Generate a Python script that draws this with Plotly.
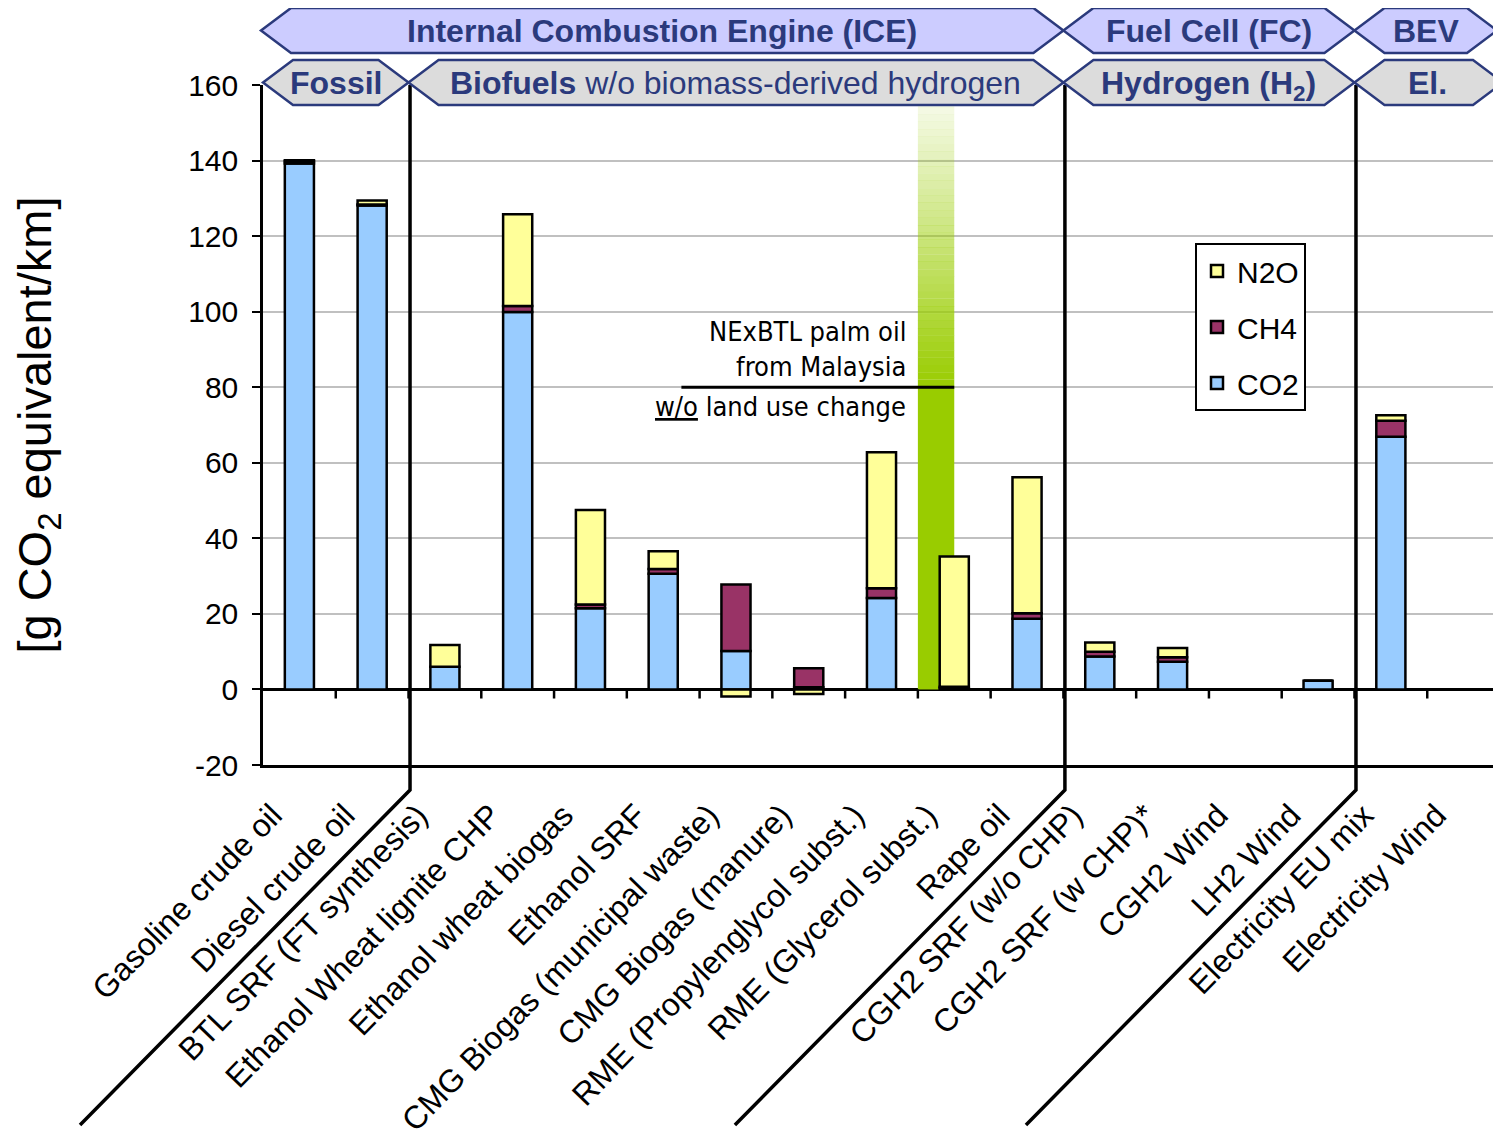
import plotly.graph_objects as go

# ---------------- data ----------------
categories = [
    "Gasoline crude oil", "Diesel crude oil", "BTL SRF (FT synthesis)",
    "Ethanol Wheat lignite CHP", "Ethanol wheat biogas", "Ethanol SRF",
    "CMG Biogas (municipal waste)", "CMG Biogas (manure)",
    "RME (Propylenglycol subst.)", "RME (Glycerol subst.)", "Rape oil",
    "CGH2 SRF (w/o CHP)", "CGH2 SRF (w CHP)*", "CGH2 Wind", "LH2 Wind",
    "Electricity EU mix", "Electricity Wind",
]
co2 = [139.2, 128.1, 6.0, 99.9, 21.5, 30.6, 10.2, 0.6, 24.2, 0.4, 18.7, 8.7, 7.3, 0, 2.3, 66.9, 0]
ch4 = [0.6, 0.3, 0, 1.6, 1.0, 1.3, 17.6, 5.0, 2.6, 0.3, 1.5, 1.3, 1.2, 0, 0, 4.2, 0]
n2o = [0.3, 1.0, 5.75, 24.3, 25.0, 4.7, -1.9, -1.2, 36.0, 34.5, 36.0, 2.4, 2.5, 0, 0, 1.5, 0]

y_ticks = [-20, 0, 20, 40, 60, 80, 100, 120, 140, 160]
y_tick_text = ["-20", "0", "20", "40", "60", "80", "100", "120", "140", "160"]

# NExBTL palm oil reference value (g CO2 eq/km)
nexbtl_value = 80
nexbtl_fade_top = 158

# group banners: (label, first boundary, last boundary) on the category axis
row1_groups = [("Internal Combustion Engine (ICE)", -0.5, 10.5),
               ("Fuel Cell (FC)", 10.5, 14.5),
               ("BEV", 14.5, 16.5)]
row2_groups = [("<b>Fossil</b>", -0.5, 1.5),
               ("<b>Biofuels</b> w/o biomass-derived hydrogen", 1.5, 10.5),
               ("<b>Hydrogen (H<sub>2</sub>)</b>", 10.5, 14.5),
               ("<b>El.</b>", 14.5, 16.5)]
separators = [1.5, 10.5, 14.5]

# ---------------- styles / geometry ----------------
C_CO2 = "#99ccff"
C_CH4 = "#993366"
C_N2O = "#ffff99"
GREEN = (153, 204, 0)
FONT = "Liberation Sans, Arial, sans-serif"
NAVY = "#2b3a7c"

OFF = 8                     # default page body margin
SCREEN_W, SCREEN_H = 1501, 1139
PLOT_L, PLOT_T, PLOT_W, PLOT_H = 263, 85, 1237, 680
W = SCREEN_W - OFF
H = SCREEN_H - 2 * OFF
ML = PLOT_L - OFF
MT = PLOT_T - OFF
MR = W - ML - PLOT_W
MB = H - MT - PLOT_H
N = len(categories)
xs = list(range(N))
label_shift = 0.37


def px_x(b):
    """paper x of a category-axis position"""
    return (b + 0.5) / N


def py(pix):
    """paper y of a screen pixel row"""
    return (PLOT_T + PLOT_H - pix) / PLOT_H


fig = go.Figure()
line = dict(color="black", width=2.5)
fig.add_trace(go.Bar(x=xs, y=co2, name="CO2", marker=dict(color=C_CO2, line=line),
                     width=0.4, legendgroup="co2", legendrank=3))
fig.add_trace(go.Bar(x=xs, y=ch4, name="CH4", marker=dict(color=C_CH4, line=line),
                     width=0.4, legendgroup="ch4", legendrank=2))
fig.add_trace(go.Bar(x=xs, y=n2o, name="N2O", marker=dict(color=C_N2O, line=line),
                     width=0.4, legendgroup="n2o", legendrank=1))

shapes = []

# green band for NExBTL (solid up to the value, fading above)
band_x0, band_x1 = 8.5, 9.0
shapes.append(dict(type="rect", xref="x", yref="y", x0=band_x0, x1=band_x1, y0=0, y1=nexbtl_value,
                   fillcolor="rgb(%d,%d,%d)" % GREEN, line=dict(width=0), layer="between"))
steps = 40
for k in range(steps):
    y0 = nexbtl_value + (nexbtl_fade_top - nexbtl_value) * k / steps
    y1 = nexbtl_value + (nexbtl_fade_top - nexbtl_value) * (k + 1) / steps
    a = 1.0 - 0.95 * (k + 0.5) / steps
    shapes.append(dict(type="rect", xref="x", yref="y", x0=band_x0, x1=band_x1, y0=y0, y1=y1 + 0.05,
                       fillcolor="rgba(%d,%d,%d,%.3f)" % (GREEN + (a,)), line=dict(width=0),
                       layer="between"))
# black line at value
shapes.append(dict(type="line", xref="x", yref="y", x0=5.25, x1=band_x1, y0=nexbtl_value,
                   y1=nexbtl_value, line=dict(color="black", width=3)))

# category boundary ticks on zero line
for i in range(N - 1):
    shapes.append(dict(type="line", xref="x", yref="y", x0=i + 0.5, x1=i + 0.5, y0=0, y1=-2.4,
                       line=dict(color="black", width=2.5)))

# separators (vertical + diagonal), paper coordinates
diag_dx = 330 / PLOT_W
y_knee = py(790)
y_end = py(1125)
for b in separators:
    x = px_x(b) + 1.5 / PLOT_W
    shapes.append(dict(type="path", xref="paper", yref="paper",
                       path="M %f,%f L %f,%f L %f,%f" % (x, 1.0, x, y_knee, x - diag_dx, y_end),
                       line=dict(color="black", width=3.5)))

# banners
indent = 30 / PLOT_W


def banner(x0, x1, ytop, ybot, fill):
    ym = (ytop + ybot) / 2
    p = "M %f,%f L %f,%f L %f,%f L %f,%f L %f,%f L %f,%f Z" % (
        x0, ym, x0 + indent, ytop, x1 - indent, ytop, x1, ym, x1 - indent, ybot, x0 + indent, ybot)
    return dict(type="path", xref="paper", yref="paper", path=p, fillcolor=fill,
                line=dict(color=NAVY, width=2.5), layer="above")


annotations = []
r1t, r1b = py(8), py(53)
r2t, r2b = py(60), py(105)
for lab, b0, b1 in row1_groups:
    x0, x1 = px_x(b0), px_x(b1)
    if b0 == -0.5:
        x0 -= 2 / PLOT_W
    if b1 == 16.5:
        x1 -= 3 / PLOT_W
    shapes.append(banner(x0, x1, r1t, r1b, "#ccccff"))
    annotations.append(dict(xref="paper", yref="paper", x=(x0 + x1) / 2, y=(r1t + r1b) / 2,
                            xanchor="center", yanchor="middle",
                            text="<b>%s</b>" % lab, showarrow=False,
                            font=dict(family=FONT, size=32, color=NAVY)))
for lab, b0, b1 in row2_groups:
    x0, x1 = px_x(b0), px_x(b1)
    xc = (x0 + x1) / 2
    if b1 == 16.5:
        x1 += 3 / PLOT_W
    shapes.append(banner(x0, x1, r2t, r2b, "#dcdcdc"))
    ym = (r2t + r2b) / 2
    if "<sub>" in lab:
        ym -= 3 / PLOT_H
    annotations.append(dict(xref="paper", yref="paper", x=xc, y=ym,
                            xanchor="center", yanchor="middle",
                            text=lab, showarrow=False,
                            font=dict(family=FONT, size=32, color=NAVY)))

# NExBTL text
NFONT = "DejaVu Sans Condensed, Open Sans, sans-serif"
annotations.append(dict(xref="x", yref="y", x=8.37, y=nexbtl_value + 0.9, xanchor="right",
                        yanchor="bottom", align="right", showarrow=False,
                        text="NExBTL palm oil<br>from Malaysia",
                        font=dict(family=NFONT, size=27, color="black")))
annotations.append(dict(xref="x", yref="y", x=8.37, y=nexbtl_value - 0.6, xanchor="right",
                        yanchor="top", align="right", showarrow=False,
                        text="<span style=\"text-decoration:underline\">w/o</span> land use change",
                        font=dict(family=NFONT, size=27, color="black")))

fig.update_layout(
    width=W, height=H,
    margin=dict(l=ML, r=MR, t=MT, b=MB),
    paper_bgcolor="white", plot_bgcolor="white",
    barmode="relative",
    font=dict(family=FONT, color="black"),
    shapes=shapes,
    annotations=annotations,
    legend=dict(x=(1195 - PLOT_L) / PLOT_W, y=py(243), xanchor="left", yanchor="top",
                bgcolor="white", bordercolor="black", borderwidth=2,
                font=dict(family=FONT, size=30, color="black"),
                traceorder="grouped", tracegroupgap=14),
    showlegend=True,
)
fig.update_xaxes(
    type="linear", range=[-0.5, N - 0.5],
    tickvals=[i - label_shift for i in xs], ticktext=categories,
    showline=True, linecolor="black", linewidth=2.5,
    ticks="", tickangle=-46, showgrid=False, zeroline=False,
    tickfont=dict(family=FONT, size=32, color="black"),
    ticklabelstandoff=16,
    automargin=False,
)
fig.update_yaxes(
    range=[-20, 160], tickvals=y_ticks, ticktext=y_tick_text,
    showline=True, linecolor="black", linewidth=2.5,
    ticks="outside", ticklen=8, tickwidth=2, tickcolor="black",
    showgrid=True, gridcolor="#c0c0c0", gridwidth=2,
    zeroline=True, zerolinecolor="black", zerolinewidth=2.5,
    tickfont=dict(family=FONT, size=30, color="black"),
    ticklabelstandoff=8,
    title=dict(text="[g CO<sub>2</sub> equivalent/km]", font=dict(family=FONT, size=47, color="black"),
               standoff=122),
    automargin=False,
)

fig.write_html("out.html")
